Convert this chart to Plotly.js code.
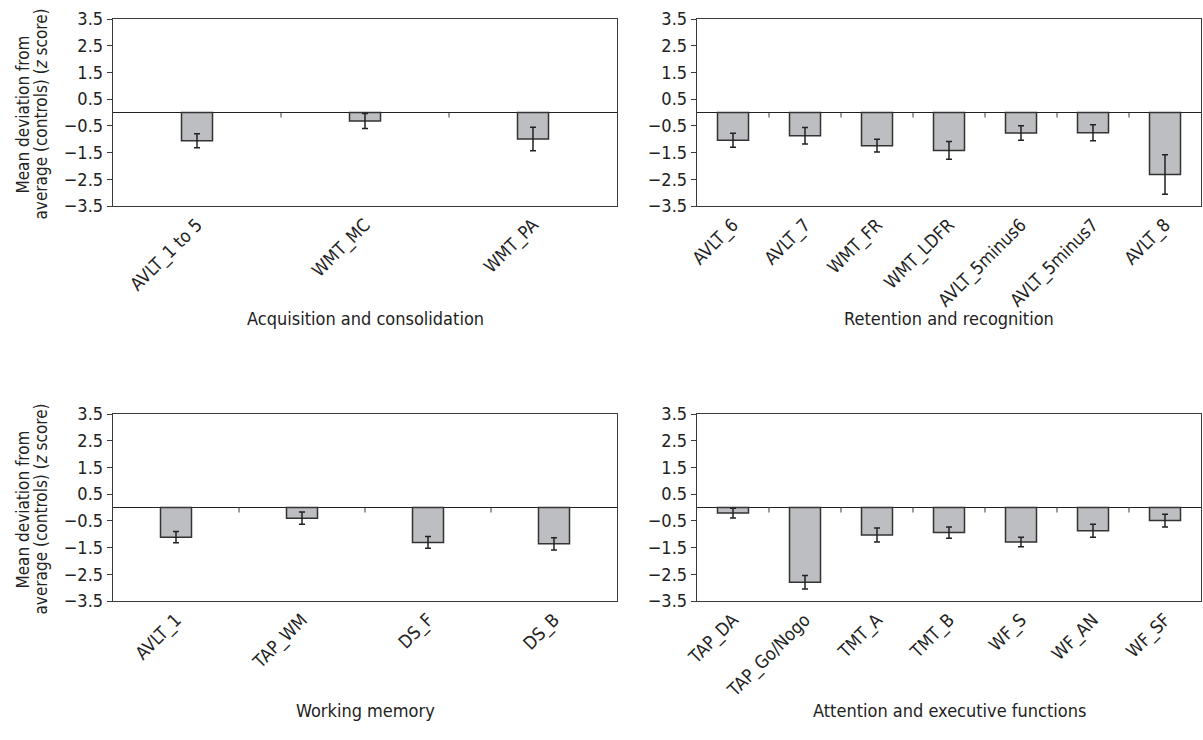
<!DOCTYPE html>
<html>
<head>
<meta charset="utf-8">
<script src="https://cdn.plot.ly/plotly-3.0.1.min.js"></script>
<style>html,body{margin:0;padding:0;background:#fff;}#chart{width:1203px;height:740px;}</style>
</head>
<body>
<div id="chart"></div>
<script>
// ---- data ----
const acqCategories = ['AVLT_1 to 5', 'WMT_MC', 'WMT_PA'];
const acqValues     = [-1.06, -0.32, -0.99];
const acqErrors     = [0.26, 0.28, 0.44];

const retCategories = ['AVLT_6', 'AVLT_7', 'WMT_FR', 'WMT_LDFR', 'AVLT_5minus6', 'AVLT_5minus7', 'AVLT_8'];
const retValues     = [-1.04, -0.87, -1.24, -1.42, -0.77, -0.76, -2.32];
const retErrors     = [0.26, 0.31, 0.24, 0.33, 0.27, 0.30, 0.74];

const wmCategories  = ['AVLT_1', 'TAP_WM', 'DS_F', 'DS_B'];
const wmValues      = [-1.11, -0.40, -1.31, -1.36];
const wmErrors      = [0.21, 0.23, 0.22, 0.23];

const attCategories = ['TAP_DA', 'TAP_Go/Nogo', 'TMT_A', 'TMT_B', 'WF_S', 'WF_AN', 'WF_SF'];
const attValues     = [-0.21, -2.80, -1.03, -0.94, -1.29, -0.87, -0.49];
const attErrors     = [0.18, 0.25, 0.26, 0.21, 0.18, 0.24, 0.24];

const yTickValues = [3.5, 2.5, 1.5, 0.5, -0.5, -1.5, -2.5, -3.5];
const panelTitles = ['Acquisition and consolidation', 'Retention and recognition', 'Working memory', 'Attention and executive functions'];
const yTitleLines = ['Mean deviation from', 'average (controls) (<i>z</i> score)'];

// ---- layout geometry ----
const W = 1203, H = 740;
const colPx = [[113, 617], [697, 1201]];
const rowPx = [[19, 206], [414, 601]]; // top, bottom in px from top
const yTitleLineX = [22, 40];
const plotW = 504;
const barPx = 31;

const panels = [
  {cats: acqCategories, vals: acqValues, errs: acqErrors, col: 0, row: 0},
  {cats: retCategories, vals: retValues, errs: retErrors, col: 1, row: 0},
  {cats: wmCategories,  vals: wmValues,  errs: wmErrors,  col: 0, row: 1},
  {cats: attCategories, vals: attValues, errs: attErrors, col: 1, row: 1}
];

const fam = '"DejaVu Sans Condensed", "Liberation Sans", Arial, sans-serif';
const font = {family: fam, size: 18, color: '#222'};
const frameColor = '#3a3a3a';

const data = [];
const layout = {
  width: W, height: H,
  margin: {l: 0, r: 0, t: 0, b: 0},
  paper_bgcolor: '#fff', plot_bgcolor: '#fff',
  showlegend: false,
  font: font,
  shapes: [],
  annotations: []
};

panels.forEach((p, i) => {
  const k = i + 1;
  const xs = k === 1 ? '' : String(k);
  const xa = 'x' + xs, ya = 'y' + xs;
  const n = p.cats.length;
  data.push({
    type: 'bar',
    x: p.cats, y: p.vals,
    xaxis: xa, yaxis: ya,
    width: barPx / (plotW / n),
    marker: {color: '#bdbec1', line: {color: '#333', width: 1.5}},
    error_y: {type: 'data', array: p.errs, visible: true, color: '#222', thickness: 1.5, width: 3},
    hoverinfo: 'x+y'
  });
  const cx = colPx[p.col], ry = rowPx[p.row];
  layout['xaxis' + xs] = {
    domain: [cx[0] / W, cx[1] / W],
    anchor: ya,
    type: 'category',
    range: [-0.5, n - 0.5],
    showline: true, linecolor: frameColor, linewidth: 1.3, mirror: true,
    ticks: '', showgrid: false, zeroline: false,
    tickangle: -45,
    tickfont: {family: fam, size: 18, color: '#222'},
    fixedrange: true
  };
  layout['yaxis' + xs] = {
    domain: [1 - ry[1] / H, 1 - ry[0] / H],
    anchor: xa,
    range: [-3.5, 3.5],
    tickmode: 'array', tickvals: yTickValues, tickformat: '.1f',
    ticks: 'outside', ticklen: 5, tickcolor: frameColor, tickwidth: 1,
    showline: true, linecolor: frameColor, linewidth: 1.3, mirror: true,
    showgrid: false,
    zeroline: true, zerolinecolor: '#222', zerolinewidth: 1.5,
    tickfont: {family: fam, size: 18, color: '#222'},
    fixedrange: true
  };
  // category-boundary ticks hanging from the zero line
  for (let j = 1; j < n; j++) {
    layout.shapes.push({
      type: 'line', xref: xa, yref: ya,
      x0: j - 0.5, x1: j - 0.5,
      ysizemode: 'pixel', yanchor: 0, y0: 0, y1: -5,
      line: {color: frameColor, width: 1}
    });
  }
  // panel (x-axis) title
  layout.annotations.push({
    text: panelTitles[i],
    xref: 'paper', yref: 'paper',
    x: (cx[0] + cx[1]) / 2 / W,
    y: 1 - (p.row === 0 ? 318 : 710) / H,
    xanchor: 'center', yanchor: 'middle',
    showarrow: false,
    font: {family: fam, size: 18, color: '#222'}
  });
  // y title (two lines) on left column
  if (p.col === 0) {
    yTitleLines.forEach((line, li) => {
      layout.annotations.push({
        text: line,
        xref: 'paper', yref: 'paper',
        x: yTitleLineX[li] / W,
        y: 1 - ((ry[0] + ry[1]) / 2 + 2) / H,
        xanchor: 'center', yanchor: 'middle',
        textangle: -90,
        showarrow: false,
        font: {family: fam, size: 17, color: '#222'}
      });
    });
  }
});

Plotly.newPlot('chart', data, layout, {displayModeBar: false, staticPlot: true});
</script>
</body>
</html>
